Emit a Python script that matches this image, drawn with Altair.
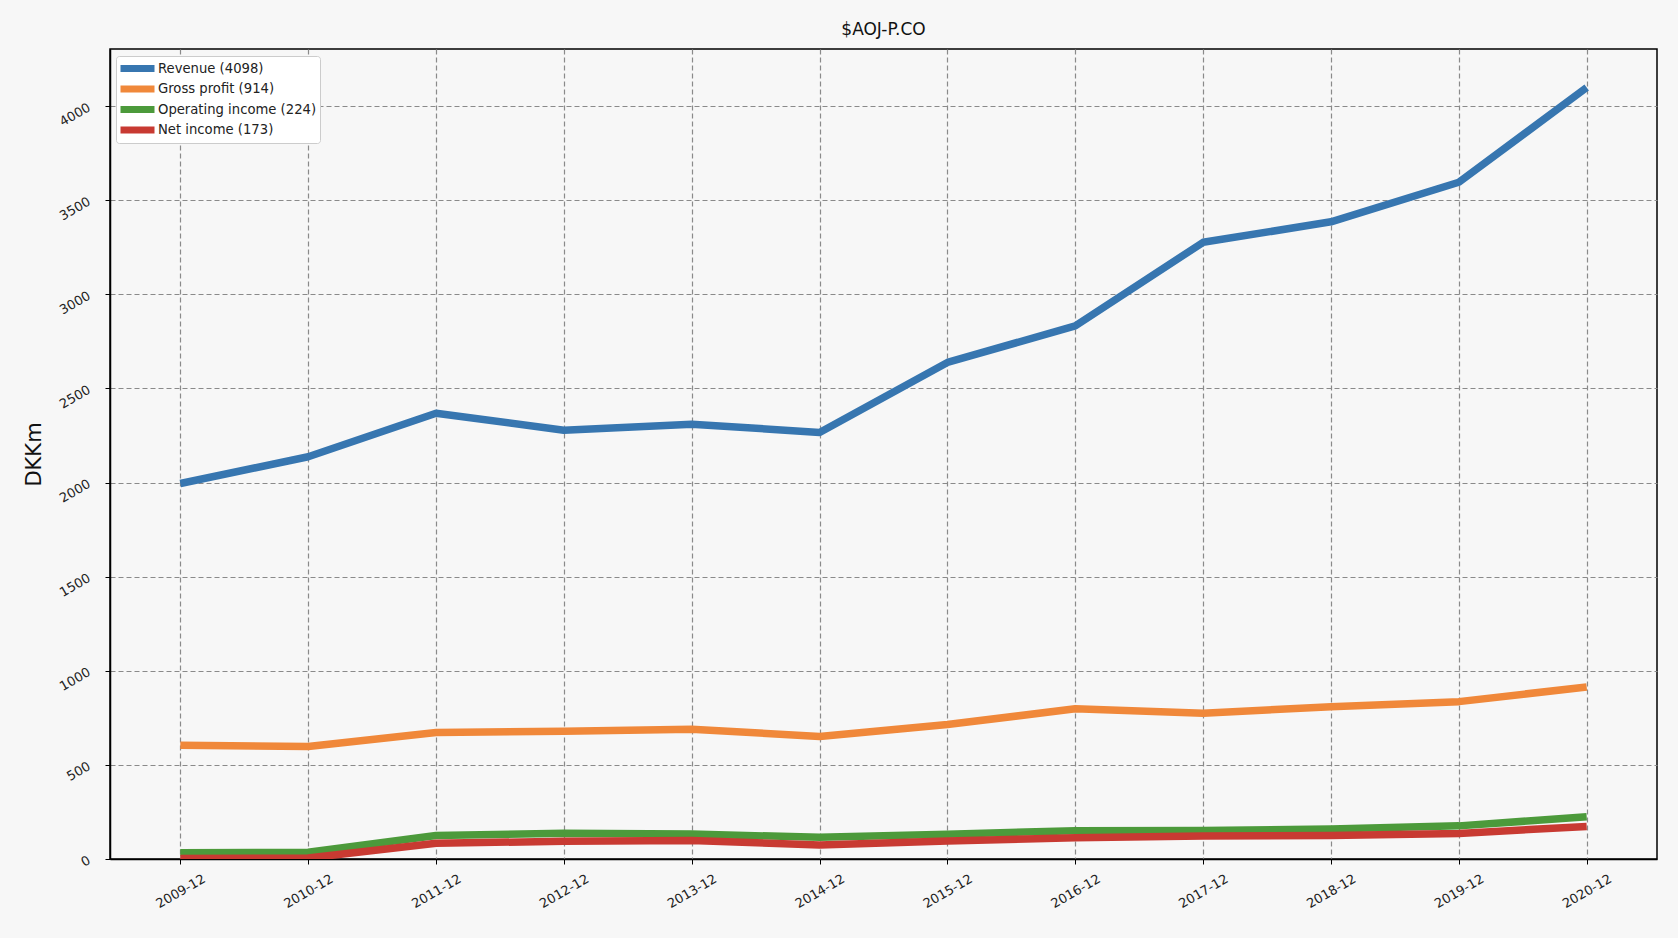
import altair as alt
import pandas as pd

periods = ["2009-12", "2010-12", "2011-12", "2012-12", "2013-12", "2014-12",
           "2015-12", "2016-12", "2017-12", "2018-12", "2019-12", "2020-12"]
revenue = [1995, 2137, 2368, 2278, 2310, 2266, 2638, 2832, 3276, 3385, 3595, 4098]
gross_profit = [604, 598, 672, 678, 689, 651, 714, 798, 774, 809, 836, 914]
operating_income = [33, 36, 125, 137, 133, 115, 132, 150, 152, 159, 176, 224]
net_income = [3, 5, 84, 94, 98, 74, 95, 113, 122, 125, 136, 173]

series_names = ["Revenue (4098)", "Gross profit (914)", "Operating income (224)", "Net income (173)"]
series_values = [revenue, gross_profit, operating_income, net_income]
series_colors = ["#3776b0", "#f0883a", "#4c9a3b", "#c83a32"]

rows = []
for name, vals in zip(series_names, series_values):
    for p, v in zip(periods, vals):
        rows.append({"period": p, "value": v, "series": name})
df = pd.DataFrame(rows)

FONT = "DejaVu Sans"

color_scale = alt.Scale(domain=series_names, range=series_colors)

base = alt.Chart(df)

layers = []
for i, name in enumerate(series_names):
    layers.append(
        base.transform_filter(alt.datum.series == name)
        .mark_line(strokeWidth=7.5, clip=True, strokeJoin="round")
        .encode(
            x=alt.X("period:O", scale=alt.Scale(type="point", padding=0.55),
                    axis=alt.Axis(title=None, labelAngle=-30, labelAlign="center",
                                  labelBaseline="middle", labelFontSize=13, labelColor="#222",
                                  labelFont=FONT, tickColor="#000", tickSize=5,
                                  domainColor="#000", domainWidth=1.5, labelPadding=27,
                                  grid=True, gridColor="#8a8a8a", gridDash=[5, 3],
                                  gridWidth=1.2)),
            y=alt.Y("value:Q", scale=alt.Scale(domain=[0, 4303], nice=False, zero=False),
                    axis=alt.Axis(title="DKKm", titleFontSize=21, titleFont=FONT,
                                  titleFontWeight="normal", titleColor="#111",
                                  titlePadding=13, format="d",
                                  values=list(range(0, 4001, 500)), labelAngle=-30,
                                  labelAlign="right", labelBaseline="middle",
                                  labelFontSize=13, labelColor="#222", labelFont=FONT,
                                  tickColor="#000", tickSize=5, domainColor="#000",
                                  domainWidth=1.5, labelPadding=16,
                                  grid=True, gridColor="#8a8a8a", gridDash=[5, 3],
                                  gridWidth=1.2)),
            color=alt.Color("series:N", scale=color_scale,
                            legend=alt.Legend(title=None, orient="none", legendX=6, legendY=7,
                                              symbolType="stroke", symbolStrokeWidth=7,
                                              symbolSize=1156, symbolOffset=-2,
                                              labelFontSize=13.2,
                                              labelFont=FONT, labelColor="#222",
                                              fillColor="#ffffff", strokeColor="#cccccc",
                                              cornerRadius=3, padding=3, rowPadding=1.5,
                                              clipHeight=19, labelOffset=0)),
        )
    )

chart = alt.layer(*layers).properties(
    width=1547,
    height=810,
    title=alt.TitleParams("$AOJ-P.CO", fontSize=17, font=FONT, fontWeight="normal",
                          color="#111", offset=10),
    background="#f7f7f7",
    padding={"left": 110, "top": 49, "right": 21, "bottom": 79},
    autosize=alt.AutoSizeParams(type="none"),
).configure_view(stroke="#000", strokeWidth=1.5, fill="#f7f7f7")

chart.save("out.html", embed_options={"renderer": "svg", "actions": False})
